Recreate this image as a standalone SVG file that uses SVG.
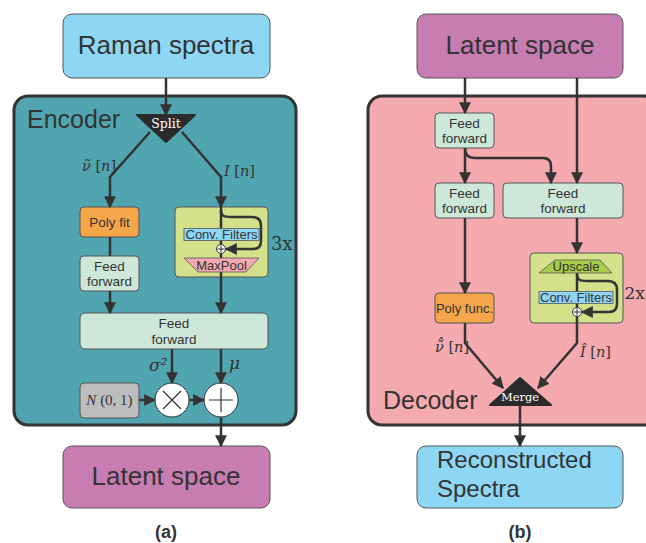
<svg xmlns="http://www.w3.org/2000/svg" width="646" height="543" viewBox="0 0 646 543">
<style>
.box{stroke:#555;stroke-width:1}
.t{font-family:"Liberation Sans",Arial,sans-serif;fill:#333;text-anchor:middle}
.big{font-size:26px}
.sm{font-size:13.5px}
.lbl{font-size:13px}
.m{font-family:"DejaVu Serif","Liberation Serif",serif;font-style:italic;fill:#333;font-size:14.5px}
.c{fill:none;stroke:#333;stroke-width:2.5}
.thin{fill:none;stroke:#333;stroke-width:1.2}
.w{font-family:"DejaVu Serif","Liberation Serif",serif;fill:#fff;text-anchor:middle}
</style>
<defs>
<marker id="ah" viewBox="0 0 10 10" refX="9" refY="5" markerWidth="12" markerHeight="12" markerUnits="userSpaceOnUse" orient="auto">
<path d="M0,0 L10,5 L0,10 z" fill="#333"/>
</marker>
</defs>
<rect width="646" height="543" fill="#fff"/>

<!-- containers -->
<g id="encoder">
<rect x="14" y="96" width="282" height="329" rx="14" fill="#50a5b0" stroke="#333" stroke-width="3"/>
<text x="27" y="128" class="t" style="text-anchor:start;font-size:25px">Encoder</text>
</g>
<g id="decoder">
<rect x="368" y="96" width="290" height="329" rx="14" fill="#f5aab0" stroke="#333" stroke-width="3"/>
<text x="383" y="409" class="t" style="text-anchor:start;font-size:25px">Decoder</text>
</g>

<!-- nodes -->
<g id="raman">
<rect x="63" y="14" width="207" height="64" rx="9" class="box" fill="#8dd7f5"/>
<text x="166" y="54" class="t big">Raman spectra</text>
</g>
<g id="latent-top">
<rect x="417" y="14" width="206" height="64" rx="9" class="box" fill="#c77db2"/>
<text x="520" y="54" class="t big">Latent space</text>
</g>
<g id="latent-bottom">
<rect x="63" y="446" width="207" height="62" rx="9" class="box" fill="#c77db2"/>
<text x="166" y="485" class="t big">Latent space</text>
</g>
<g id="recon">
<rect x="417" y="446" width="206" height="62" rx="9" class="box" fill="#8dd7f5"/>
<text x="437" y="468" class="t" style="text-anchor:start;font-size:24px">Reconstructed</text>
<text x="437" y="497" class="t" style="text-anchor:start;font-size:24px">Spectra</text>
</g>

<g id="split">
<path d="M137,115 L195,115 L166,142 Z" fill="#2b2b2b" stroke="#2b2b2b" stroke-width="2" stroke-linejoin="round"/>
<text x="166" y="127.5" class="w" style="font-size:12.5px">Split</text>
</g>
<g id="polyfit">
<rect x="80" y="207" width="59" height="30" rx="4" class="box" fill="#f5a64b"/>
<text x="109.5" y="227" class="t sm">Poly fit</text>
</g>
<g id="ff-enc-left">
<rect x="80" y="256" width="59" height="35" rx="4" class="box" fill="#cde8d8"/>
<text x="109.5" y="271" class="t sm">Feed</text>
<text x="109.5" y="286" class="t sm">forward</text>
</g>
<g id="conv-enc-box">
<rect x="175" y="207" width="93" height="70" rx="4" class="box" fill="#d4e08a"/>
</g>
<g id="ff-enc-big">
<rect x="80" y="313" width="188" height="36" rx="5" class="box" fill="#cde8d8"/>
<text x="174" y="328" class="t sm">Feed</text>
<text x="174" y="344" class="t sm">forward</text>
</g>
<g id="normal">
<rect x="80" y="383" width="59" height="35" rx="4" class="box" fill="#bdbdbd"/>
<text x="109.5" y="405" style="font-family:'Liberation Serif','DejaVu Serif',serif;font-size:15px;fill:#333;text-anchor:middle"><tspan font-style="italic">N</tspan> (0, 1)</text>
</g>
<g id="mult">
<circle cx="172" cy="400" r="17" fill="#fff" stroke="#333" stroke-width="1"/>
<path d="M163,391 L181,409 M181,391 L163,409" class="thin"/>
</g>
<g id="add">
<circle cx="221" cy="400" r="17" fill="#fff" stroke="#333" stroke-width="1"/>
<path d="M209,400 L233,400 M221,388 L221,412" class="thin"/>
</g>

<g id="ff-dec-1">
<rect x="435" y="113" width="59" height="35" rx="4" class="box" fill="#cde8d8"/>
<text x="464.5" y="128" class="t sm">Feed</text>
<text x="464.5" y="143" class="t sm">forward</text>
</g>
<g id="ff-dec-2">
<rect x="435" y="183" width="59" height="35" rx="4" class="box" fill="#cde8d8"/>
<text x="464.5" y="198" class="t sm">Feed</text>
<text x="464.5" y="213" class="t sm">forward</text>
</g>
<g id="ff-dec-3">
<rect x="503" y="183" width="120" height="35" rx="4" class="box" fill="#cde8d8"/>
<text x="563" y="198" class="t sm">Feed</text>
<text x="563" y="213" class="t sm">forward</text>
</g>
<g id="polyfunc">
<rect x="435" y="293" width="59" height="30" rx="4" class="box" fill="#f5a64b"/>
<text x="464.5" y="313" class="t" style="font-size:13px">Poly func.</text>
</g>
<g id="conv-dec-box">
<rect x="530" y="253" width="93" height="70" rx="4" class="box" fill="#d4e08a"/>
</g>
<g id="merge">
<path d="M520,378 L551,405 L490,405 Z" fill="#2b2b2b" stroke="#2b2b2b" stroke-width="2" stroke-linejoin="round"/>
<text x="520" y="401" class="w" style="font-size:11.5px">Merge</text>
</g>

<!-- connectors -->
<g id="connectors">
<path d="M166,78 L166,115" class="c" marker-end="url(#ah)"/>
<path d="M150,132 L110,177 L110,207" class="c" marker-end="url(#ah)"/>
<path d="M182,132 L221,177 L221,207" class="c" marker-end="url(#ah)"/>
<path d="M110,237 L110,256" class="c"/>
<path d="M221,207 L221,313" class="c" marker-end="url(#ah)"/>
<path d="M221,210 C221,216 224,217 231,217 L252,217 Q261,217 261,226 L261,241 Q261,249 253,249 L226,249" class="c" marker-end="url(#ah)"/>
<path d="M110,291 L110,313" class="c" marker-end="url(#ah)"/>
<path d="M172,349 L172,383" class="c" marker-end="url(#ah)"/>
<path d="M221,349 L221,383" class="c" marker-end="url(#ah)"/>
<path d="M139,400 L155,400" class="c" marker-end="url(#ah)"/>
<path d="M189,400 L204,400" class="c" marker-end="url(#ah)"/>
<path d="M221,417 L221,446" class="c" marker-end="url(#ah)"/>

<path d="M465,78 L465,113" class="c" marker-end="url(#ah)"/>
<path d="M577,78 L577,183" class="c" marker-end="url(#ah)"/>
<path d="M465,148 L465,183" class="c" marker-end="url(#ah)"/>
<path d="M465,148 Q465,158 475,158 L543,158 Q551,158 551,166 L551,183" class="c" marker-end="url(#ah)"/>
<path d="M465,218 L465,293" class="c" marker-end="url(#ah)"/>
<path d="M577,218 L577,253" class="c" marker-end="url(#ah)"/>
<path d="M577,270 L577,343 L538,388" class="c" marker-end="url(#ah)"/>
<path d="M577,274 C577,280 580,281 587,281 L608,281 Q617,281 617,290 L617,304 Q617,312 609,312 L582,312" class="c" marker-end="url(#ah)"/>
<path d="M465,323 L465,343 L503,388" class="c" marker-end="url(#ah)"/>
<path d="M520,405 L520,446" class="c" marker-end="url(#ah)"/>
</g>

<!-- inner block labels (drawn over connectors) -->
<g id="enc-block-labels">
<rect x="184" y="228.5" width="75" height="12" fill="#8dd7f5" stroke="#555" stroke-width="0.8"/>
<text x="221.5" y="239" class="t lbl">Conv. Filters</text>
<circle cx="221" cy="249" r="4.5" fill="#fff" stroke="#333" stroke-width="1"/>
<path d="M217.5,249 L224.5,249 M221,245.5 L221,252.5" stroke="#333" stroke-width="1"/>
<path d="M184,258 L259,258 L246,272 L198,272 Z" fill="#f4a9b2" stroke="#555" stroke-width="0.8"/>
<text x="221.5" y="269.5" class="t lbl">MaxPool</text>
<text x="271" y="250" style="font-family:'DejaVu Serif','Liberation Serif',serif;font-size:18px;fill:#333">3x</text>
</g>
<g id="dec-block-labels">
<path d="M555,260 L600,260 L612,273 L539,273 Z" fill="#a9cc4a" stroke="#555" stroke-width="0.8"/>
<text x="576" y="271" class="t lbl">Upscale</text>
<rect x="539" y="291.5" width="74" height="12" fill="#8dd7f5" stroke="#555" stroke-width="0.8"/>
<text x="576" y="302" class="t lbl">Conv. Filters</text>
<circle cx="577" cy="312" r="4.5" fill="#fff" stroke="#333" stroke-width="1"/>
<path d="M573.5,312 L580.5,312 M577,308.5 L577,315.5" stroke="#333" stroke-width="1"/>
<text x="624.5" y="299" style="font-family:'DejaVu Serif','Liberation Serif',serif;font-size:17px;fill:#333">2x</text>
</g>

<!-- math labels -->
<g id="math-labels">
<text x="82" y="171" class="m">ν̃ <tspan font-style="normal">[</tspan>n<tspan font-style="normal">]</tspan></text>
<text x="224" y="176" class="m">I <tspan font-style="normal">[</tspan>n<tspan font-style="normal">]</tspan></text>
<text x="149" y="371" class="m" style="font-size:17px">σ²</text>
<text x="229" y="369" class="m" style="font-size:17px">μ</text>
<text x="435" y="352" class="m">ν̃̂ <tspan font-style="normal">[</tspan>n<tspan font-style="normal">]</tspan></text>
<text x="580" y="357" class="m">Î <tspan font-style="normal">[</tspan>n<tspan font-style="normal">]</tspan></text>
</g>

<text x="166" y="538" class="t" style="font-size:18px;font-weight:bold">(a)</text>
<text x="520" y="538" class="t" style="font-size:18px;font-weight:bold">(b)</text>
</svg>
